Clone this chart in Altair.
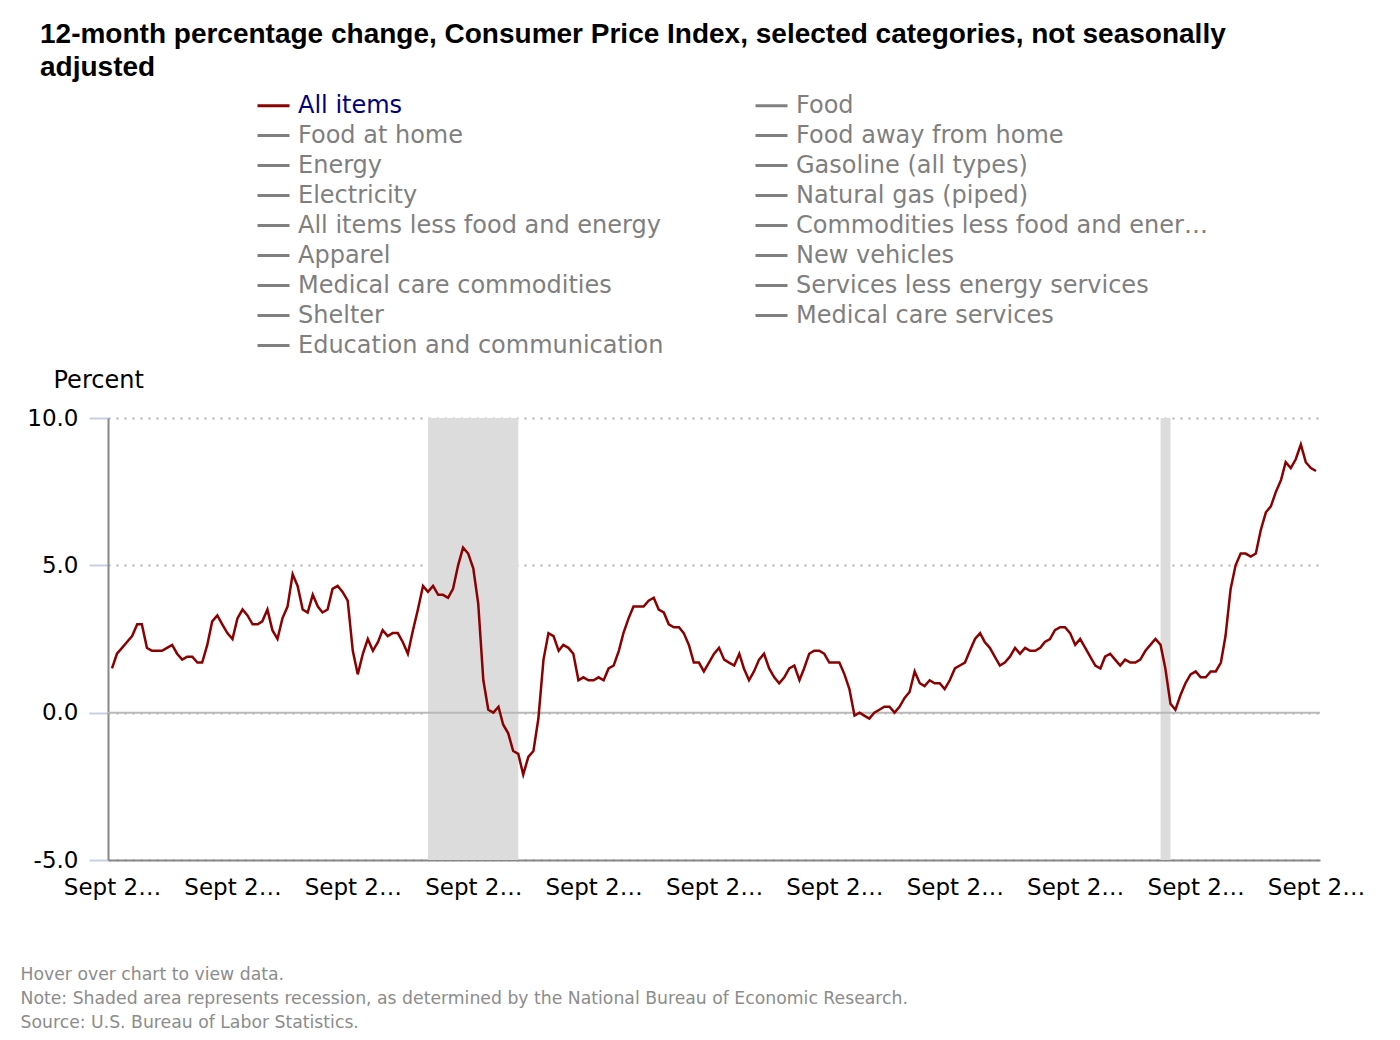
import altair as alt
import pandas as pd

# 12-month % change, CPI-U All items (Sept 2002 - Sept 2022)
cpi_2002 = [1.5, 2.0, 2.2, 2.4]
cpi_2003 = [2.6, 3.0, 3.0, 2.2, 2.1, 2.1, 2.1, 2.2, 2.3, 2.0, 1.8, 1.9]
cpi_2004 = [1.9, 1.7, 1.7, 2.3, 3.1, 3.3, 3.0, 2.7, 2.5, 3.2, 3.5, 3.3]
cpi_2005 = [3.0, 3.0, 3.1, 3.5, 2.8, 2.5, 3.2, 3.6, 4.7, 4.3, 3.5, 3.4]
cpi_2006 = [4.0, 3.6, 3.4, 3.5, 4.2, 4.3, 4.1, 3.8, 2.1, 1.3, 2.0, 2.5]
cpi_2007 = [2.1, 2.4, 2.8, 2.6, 2.7, 2.7, 2.4, 2.0, 2.8, 3.5, 4.3, 4.1]
cpi_2008 = [4.3, 4.0, 4.0, 3.9, 4.2, 5.0, 5.6, 5.4, 4.9, 3.7, 1.1, 0.1]
cpi_2009 = [0.0, 0.2, -0.4, -0.7, -1.3, -1.4, -2.1, -1.5, -1.3, -0.2, 1.8, 2.7]
cpi_2010 = [2.6, 2.1, 2.3, 2.2, 2.0, 1.1, 1.2, 1.1, 1.1, 1.2, 1.1, 1.5]
cpi_2011 = [1.6, 2.1, 2.7, 3.2, 3.6, 3.6, 3.6, 3.8, 3.9, 3.5, 3.4, 3.0]
cpi_2012 = [2.9, 2.9, 2.7, 2.3, 1.7, 1.7, 1.4, 1.7, 2.0, 2.2, 1.8, 1.7]
cpi_2013 = [1.6, 2.0, 1.5, 1.1, 1.4, 1.8, 2.0, 1.5, 1.2, 1.0, 1.2, 1.5]
cpi_2014 = [1.6, 1.1, 1.5, 2.0, 2.1, 2.1, 2.0, 1.7, 1.7, 1.7, 1.3, 0.8]
cpi_2015 = [-0.1, 0.0, -0.1, -0.2, 0.0, 0.1, 0.2, 0.2, 0.0, 0.2, 0.5, 0.7]
cpi_2016 = [1.4, 1.0, 0.9, 1.1, 1.0, 1.0, 0.8, 1.1, 1.5, 1.6, 1.7, 2.1]
cpi_2017 = [2.5, 2.7, 2.4, 2.2, 1.9, 1.6, 1.7, 1.9, 2.2, 2.0, 2.2, 2.1]
cpi_2018 = [2.1, 2.2, 2.4, 2.5, 2.8, 2.9, 2.9, 2.7, 2.3, 2.5, 2.2, 1.9]
cpi_2019 = [1.6, 1.5, 1.9, 2.0, 1.8, 1.6, 1.8, 1.7, 1.7, 1.8, 2.1, 2.3]
cpi_2020 = [2.5, 2.3, 1.5, 0.3, 0.1, 0.6, 1.0, 1.3, 1.4, 1.2, 1.2, 1.4]
cpi_2021 = [1.4, 1.7, 2.6, 4.2, 5.0, 5.4, 5.4, 5.3, 5.4, 6.2, 6.8, 7.0]
cpi_2022 = [7.5, 7.9, 8.5, 8.3, 8.6, 9.1, 8.5, 8.3, 8.2]

first_month = "2002-09-01"

# Recessions (NBER)
rec_start = ["2007-12-01", "2020-02-01"]
rec_end = ["2009-06-01", "2020-04-01"]

# Legend entries (row-major, two columns)
series_names = [
    "All items", "Food",
    "Food at home", "Food away from home",
    "Energy", "Gasoline (all types)",
    "Electricity", "Natural gas (piped)",
    "All items less food and energy", "Commodities less food and energy commodities",
    "Apparel", "New vehicles",
    "Medical care commodities", "Services less energy services",
    "Shelter", "Medical care services",
    "Education and communication",
]
series_colors = ["#8b0000"] + ["#808080"] * (len(series_names) - 1)

tick_years = list(range(2002, 2023, 2))
y_ticks = [-5, 0, 5, 10]

title_lines = [
    "12-month percentage change, Consumer Price Index, selected categories, not seasonally",
    "adjusted",
]
footer_lines = [
    "Hover over chart to view data.",
    "Note: Shaded area represents recession, as determined by the National Bureau of Economic Research.",
    "Source: U.S. Bureau of Labor Statistics.",
]

values = (cpi_2002 + cpi_2003 + cpi_2004 + cpi_2005 + cpi_2006 + cpi_2007 + cpi_2008
          + cpi_2009 + cpi_2010 + cpi_2011 + cpi_2012 + cpi_2013 + cpi_2014 + cpi_2015
          + cpi_2016 + cpi_2017 + cpi_2018 + cpi_2019 + cpi_2020 + cpi_2021 + cpi_2022)
dates = pd.date_range(first_month, periods=len(values), freq="MS")
df = pd.DataFrame({"date": dates, "value": values, "series": "All items"})
rec = pd.DataFrame({"start": pd.to_datetime(rec_start), "end": pd.to_datetime(rec_end)})
zero_df = pd.DataFrame({"value": [0]})

FONT = "DejaVu Sans"

x_axis = alt.Axis(
    values=[alt.DateTime(year=y, month=9, date=1) for y in tick_years],
    labelExpr="'Sept ' + timeFormat(datum.value, '%Y')",
    labelLimit=100,
    labelFont=FONT, labelFontSize=23, labelColor="black",
    labelPadding=16, labelOverlap=False, labelFlush=False,
    ticks=False, grid=False,
    domainColor="#888888", domainWidth=2,
    title=footer_lines,
    titleX=-88, titleY=119, titleAlign="left", titleAnchor="start",
    titleBaseline="alphabetic", titleAngle=0,
    titleFont=FONT, titleFontSize=17.25, titleFontWeight="normal",
    titleColor="#8c8c8c", titleLineHeight=24,
)

y_axis = alt.Axis(
    values=y_ticks,
    labelExpr="(datum.value < 0 ? '-' : '') + format(abs(datum.value), '.1f')",
    labelFont=FONT, labelFontSize=23, labelColor="black", labelPadding=11,
    tickColor="#c6d0e4", tickSize=19, tickWidth=2,
    domainColor="#888888", domainWidth=2,
    gridColor="#b4b4b4", gridDash=[2, 6], gridWidth=2,
    title="Percent", titleAngle=0, titleAlign="left", titleBaseline="alphabetic",
    titleX=-55, titleY=-31, titleFont=FONT, titleFontSize=24,
    titleFontWeight="normal", titleColor="black",
)

x_scale = alt.Scale(padding=4)
y_scale = alt.Scale(domain=[-5, 10], nice=False, zero=False)

shade = alt.Chart(rec).mark_rect(color="#dcdcdc").encode(
    x=alt.X("start:T", scale=x_scale, axis=x_axis),
    x2="end:T",
)

zero = alt.Chart(zero_df).mark_rule(color="#b8b8b8", strokeWidth=2).encode(
    y=alt.Y("value:Q", scale=y_scale, axis=y_axis)
)

legend = alt.Legend(
    title=None, orient="none", legendX=148, legendY=-330,
    direction="horizontal", columns=2, gridAlign="each",
    columnPadding=85, rowPadding=0,
    symbolType="stroke", symbolSize=1024, symbolStrokeWidth=3,
    labelFont=FONT, labelFontSize=24, labelLimit=414, labelOffset=7,
    labelColor={"expr": "datum.label === 'All items' ? '#000080' : '#7f7f7f'"},
    padding=0,
)

line = alt.Chart(df).mark_line(strokeWidth=2.5).encode(
    x=alt.X("date:T", scale=x_scale, axis=x_axis),
    y=alt.Y("value:Q", scale=y_scale, axis=y_axis),
    color=alt.Color("series:N", scale=alt.Scale(domain=series_names, range=series_colors), legend=legend),
)

chart = alt.layer(shade, zero, line).properties(
    width=1212, height=442,
    title=alt.TitleParams(
        text=title_lines, anchor="start", frame="group", dx=-68, offset=6,
        font="Liberation Sans", fontSize=28, fontWeight="bold", color="black",
        lineHeight=33,
    ),
    autosize=alt.AutoSizeParams(type="none"),
    padding={"left": 100, "top": 410, "right": 70, "bottom": 172},
).configure_view(stroke=None)

chart.save("out.html", embed_options={"renderer": "svg", "actions": False})
